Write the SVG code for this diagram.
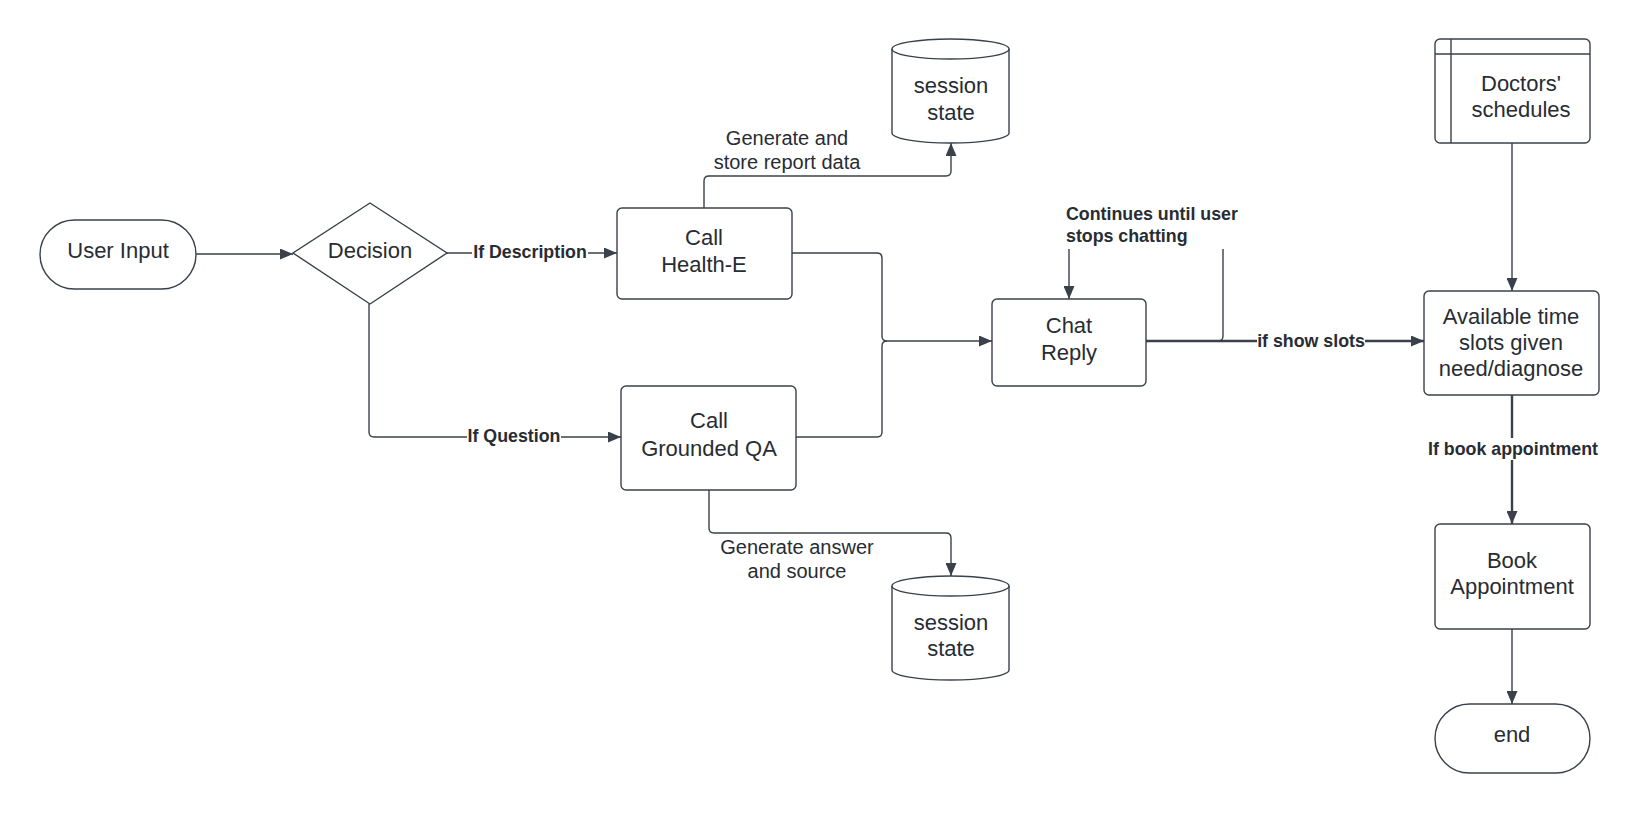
<svg xmlns="http://www.w3.org/2000/svg" width="1640" height="814" viewBox="0 0 1640 814">
  <defs>
    <marker id="arrow" markerUnits="userSpaceOnUse" markerWidth="13" markerHeight="11" refX="13" refY="5.5" orient="auto">
      <path d="M0,0 L13,5.5 L0,11 z" fill="#3a414a"/>
    </marker>
    <style>
      .shape { fill: #ffffff; stroke: #3a414a; stroke-width: 1.4; }
      .line { fill: none; stroke: #3a414a; stroke-width: 1.4; }
      .thick { fill: none; stroke: #3a414a; stroke-width: 2.4; }
      .node-text { font-family: "Liberation Sans", Arial, sans-serif; font-size: 22px; fill: #282c33; text-anchor: middle; }
      .note { font-family: "Liberation Sans", Arial, sans-serif; font-size: 20px; fill: #282c33; text-anchor: middle; }
      .label { font-family: "Liberation Sans", Arial, sans-serif; font-size: 17.8px; font-weight: bold; fill: #282c33; text-anchor: middle; }
      .label-left { text-anchor: start; }
      .label-bg { fill: #ffffff; stroke: none; }
    </style>
  </defs>

  <rect width="1640" height="814" fill="#ffffff"/>

  <!-- connectors -->
  <g id="connectors">
    <path class="line" d="M196,254 H293" marker-end="url(#arrow)"/>
    <path class="line" d="M447,253 H617" marker-end="url(#arrow)"/>
    <path class="line" d="M369,304 V432 Q369,437 374,437 H621" marker-end="url(#arrow)"/>
    <path class="line" d="M704,208 V181 Q704,176 709,176 H946 Q951,176 951,171 V143" marker-end="url(#arrow)"/>
    <path class="line" d="M709,490 V528 Q709,533 714,533 H946 Q951,533 951,538 V576" marker-end="url(#arrow)"/>
    <path class="line" d="M792,253 H877 Q882,253 882,258 V336 Q882,341 887,341 H992" marker-end="url(#arrow)"/>
    <path class="line" d="M796,437 H877 Q882,437 882,432 V346 Q882,341 887,341"/>
    <path class="line" d="M1069,249 V299" marker-end="url(#arrow)"/>
    <path class="line" d="M1223,249 V336 Q1223,341 1218,341"/>
    <path class="thick" d="M1146,341 H1424" marker-end="url(#arrow)"/>
    <path class="line" d="M1512,143 V291" marker-end="url(#arrow)"/>
    <path class="thick" d="M1512,395 V524" marker-end="url(#arrow)"/>
    <path class="line" d="M1512,629 V704" marker-end="url(#arrow)"/>

    <!-- connector labels -->
    <rect class="label-bg" x="472" y="242" width="116" height="22"/>
    <text class="label" x="530" y="258">If Description</text>
    <rect class="label-bg" x="467" y="426" width="94" height="22"/>
    <text class="label" x="514" y="442">If Question</text>
    <rect class="label-bg" x="1257" y="330" width="108" height="22"/>
    <text class="label" x="1311" y="347">if show slots</text>
    <rect class="label-bg" x="1428" y="438" width="170" height="22"/>
    <text class="label" x="1513" y="455">If book appointment</text>

    <text class="note" x="787" y="145">Generate and</text>
    <text class="note" x="787" y="169">store report data</text>
    <text class="note" x="797" y="554">Generate answer</text>
    <text class="note" x="797" y="578">and source</text>

    <text class="label label-left" x="1066" y="220">Continues until user</text>
    <text class="label label-left" x="1066" y="242">stops chatting</text>
  </g>

  <g id="user-input">
    <rect class="shape" x="40" y="220" width="156" height="69" rx="34.5"/>
    <text class="node-text" x="118" y="258">User Input</text>
  </g>

  <g id="decision">
    <path class="shape" d="M370,203 L447,253 L370,304 L293,253 Z"/>
    <text class="node-text" x="370" y="258">Decision</text>
  </g>

  <g id="call-health-e">
    <rect class="shape" x="617" y="208" width="175" height="91" rx="5"/>
    <text class="node-text" x="704" y="245">Call</text>
    <text class="node-text" x="704" y="272">Health-E</text>
  </g>

  <g id="call-grounded-qa">
    <rect class="shape" x="621" y="386" width="175" height="104" rx="5"/>
    <text class="node-text" x="709" y="428">Call</text>
    <text class="node-text" x="709" y="456">Grounded QA</text>
  </g>

  <g id="session-state-top">
    <path class="shape" d="M892,49 A58.5,10 0 0 1 1009,49 V133 A58.5,10 0 0 1 892,133 Z"/>
    <path class="line" d="M892,49 A58.5,10 0 0 0 1009,49"/>
    <text class="node-text" x="951" y="93">session</text>
    <text class="node-text" x="951" y="120">state</text>
  </g>

  <g id="session-state-bottom">
    <path class="shape" d="M892,586 A58.5,10 0 0 1 1009,586 V670 A58.5,10 0 0 1 892,670 Z"/>
    <path class="line" d="M892,586 A58.5,10 0 0 0 1009,586"/>
    <text class="node-text" x="951" y="630">session</text>
    <text class="node-text" x="951" y="656">state</text>
  </g>

  <g id="chat-reply">
    <rect class="shape" x="992" y="299" width="154" height="87" rx="5"/>
    <text class="node-text" x="1069" y="333">Chat</text>
    <text class="node-text" x="1069" y="360">Reply</text>
  </g>

  <g id="doctors-schedules">
    <rect class="shape" x="1435" y="39" width="155" height="104" rx="5"/>
    <path class="line" d="M1435,54 H1590 M1451,39 V143"/>
    <text class="node-text" x="1521" y="91">Doctors'</text>
    <text class="node-text" x="1521" y="117">schedules</text>
  </g>

  <g id="available-slots">
    <rect class="shape" x="1424" y="291" width="175" height="104" rx="5"/>
    <text class="node-text" x="1511" y="324">Available time</text>
    <text class="node-text" x="1511" y="350">slots given</text>
    <text class="node-text" x="1511" y="376">need/diagnose</text>
  </g>

  <g id="book-appointment">
    <rect class="shape" x="1435" y="524" width="155" height="105" rx="5"/>
    <text class="node-text" x="1512" y="568">Book</text>
    <text class="node-text" x="1512" y="594">Appointment</text>
  </g>

  <g id="end">
    <rect class="shape" x="1435" y="704" width="155" height="69" rx="34.5"/>
    <text class="node-text" x="1512" y="742">end</text>
  </g>
</svg>
